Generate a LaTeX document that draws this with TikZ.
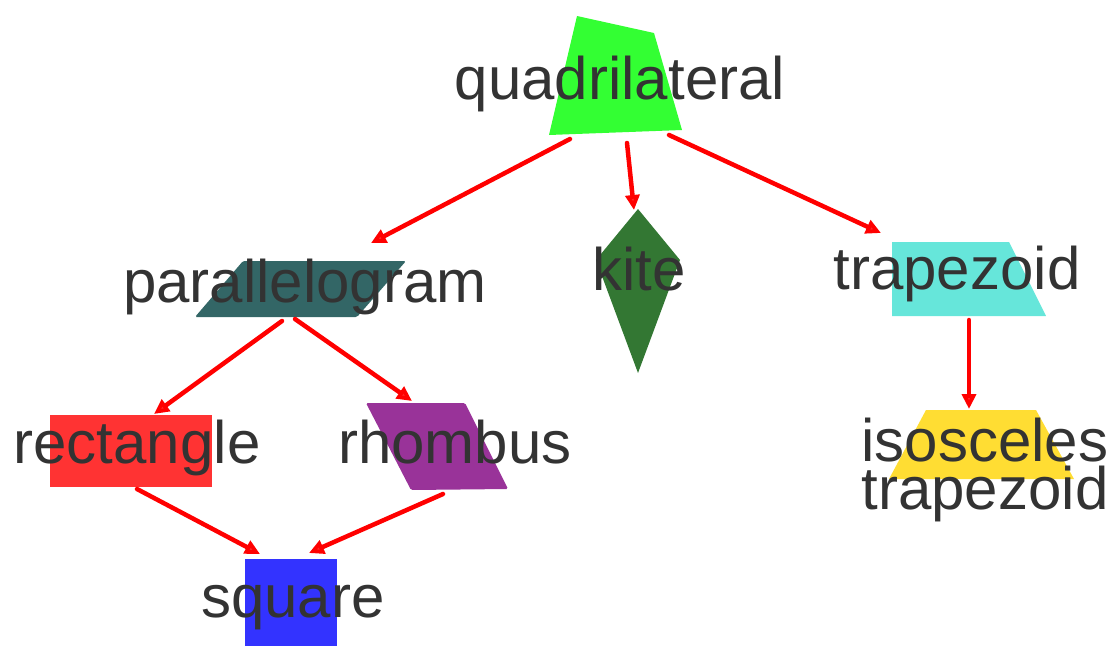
\documentclass[tikz,border=0pt]{standalone}
\usepackage{fontspec}
\setmainfont{Liberation Sans}
\usetikzlibrary{arrows.meta}

\definecolor{ink}{HTML}{333333}
\definecolor{quadfill}{HTML}{33FF33}
\definecolor{parafill}{HTML}{336666}
\definecolor{kitefill}{HTML}{337733}
\definecolor{trapfill}{HTML}{66E6DA}
\definecolor{isofill}{HTML}{FFDD33}
\definecolor{rectfill}{HTML}{FF3333}
\definecolor{rhombfill}{HTML}{993399}
\definecolor{squarefill}{HTML}{3333FF}
\definecolor{linkred}{HTML}{FF0000}

\begin{document}
\begin{tikzpicture}[x=1pt, y=-1pt,
  label/.style={text=ink, font=\fontsize{60}{48}\selectfont, inner sep=0pt, anchor=base},
  link/.style={draw=linkred, line width=4.5pt, line cap=round,
    -{Triangle[length=15pt, width=14pt, fill=linkred!85!white]}}]
\useasboundingbox (0,0) rectangle (1116,646);

% filled shapes
\fill[quadfill] (577,16) -- (654,33) -- (682,130) -- (549,135) -- cycle;
\fill[parafill, rounded corners=1.5pt] (243,261) -- (406,261) -- (357,317) -- (195,317) -- cycle;
\fill[kitefill] (638,209) -- (680,260) -- (638,373) -- (596,260) -- cycle;
\fill[trapfill] (892,242) -- (1009,242) -- (1046,316) -- (892,316) -- cycle;
\fill[isofill] (926,410) -- (1036,410) -- (1074,479) -- (889,479) -- cycle;
\fill[rectfill] (50,415) rectangle (212,487);
\fill[rhombfill, rounded corners=1.5pt] (366,403) -- (465,403) -- (508,489) -- (411,490) -- cycle;
\fill[squarefill] (245,559) rectangle (337,646);

% labels (a multi-line label is anchored on its last baseline)
\node[label] (quad)   at (620,99)  {quadrilateral};
\node[label] (para)   at (305,302) {parallelogram};
\node[label] (kite)   at (639,290) {kite};
\node[label] (trap)   at (957,289) {trapezoid};
\node[label] (rect)   at (137,463) {rectangle};
\node[label] (rhomb)  at (455,463) {rhombus};
\node[label] (square) at (293,617) {square};
\node[label, align=center] (iso) at (985,509) {isosceles\\trapezoid};

% connector ends on each shape
\coordinate (quad-l)  at (570,139);
\coordinate (quad-m)  at (627,143);
\coordinate (quad-r)  at (669,135);
\coordinate (para-in) at (371,243);
\coordinate (para-l)  at (282,321);
\coordinate (para-r)  at (295,319);
\coordinate (kite-in) at (634,210);
\coordinate (trap-in) at (881,233);
\coordinate (trap-out) at (969,320);
\coordinate (iso-in)  at (969,409);
\coordinate (rect-in) at (154,414);
\coordinate (rect-out) at (137,489);
\coordinate (rhomb-in) at (412,401);
\coordinate (rhomb-out) at (443,494);
\coordinate (square-l) at (260,554);
\coordinate (square-r) at (309,553);

% connectors
\draw[link] (quad-l) -- (para-in);
\draw[link] (quad-m) -- (kite-in);
\draw[link] (quad-r) -- (trap-in);
\draw[link] (para-l) -- (rect-in);
\draw[link] (para-r) -- (rhomb-in);
\draw[link] (trap-out) -- (iso-in);
\draw[link] (rect-out) -- (square-l);
\draw[link] (rhomb-out) -- (square-r);
\end{tikzpicture}
\end{document}
